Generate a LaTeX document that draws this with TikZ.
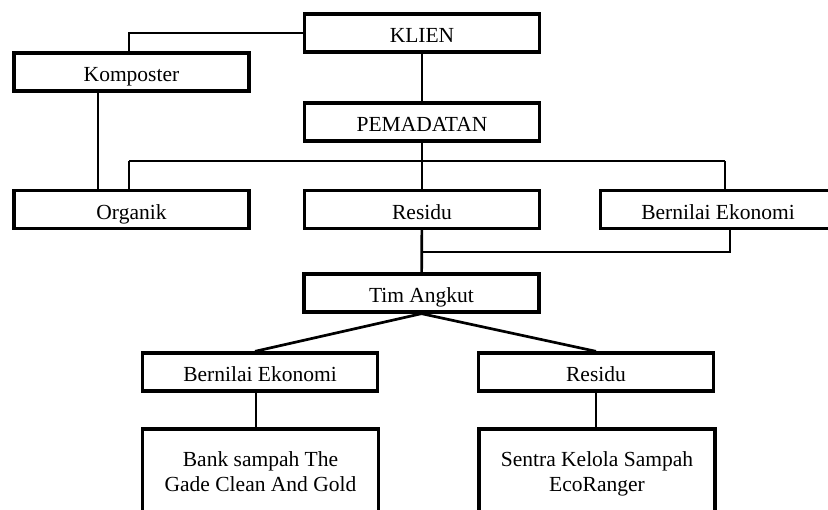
\documentclass[tikz,border=0pt]{standalone}
\usepackage{fontspec}
\setmainfont{Liberation Serif}
\begin{document}
\begin{tikzpicture}[
  x=1pt, y=-1pt,
  every node/.style={font=\fontsize{21.5}{25}\selectfont},
  unit/.style={draw, line width=3.3pt, minimum width=235pt, minimum height=38pt,
    inner sep=0pt, text height=20pt, text depth=0pt},
  tujuan/.style={draw, line width=3.3pt, minimum width=236pt, minimum height=88pt,
    inner sep=0pt, align=center, text height=40pt, text depth=3pt},
  link/.style={draw, line width=2.7pt},
  cabang/.style={draw, line width=1.4pt}
]
\useasboundingbox (0,0) rectangle (828,510);
\clip (0,0) rectangle (828,510);

% Nodes
\node[unit] (klien) at (422,33) {KLIEN};
\node[unit] (komposter) at (131.5,72) {Komposter};
\node[unit] (pemadatan) at (422,122) {PEMADATAN};
\node[unit] (organik) at (131.5,209.5) {Organik};
\node[unit] (residu) at (422,209.5) {Residu};
\node[unit] (ekonomi) at (718,209.5) {Bernilai Ekonomi};
\node[unit] (angkut) at (421.5,293) {Tim Angkut};
\node[unit] (ekonomi2) at (260,372) {Bernilai Ekonomi};
\node[unit] (residu2) at (596,372) {Residu};
\node[tujuan] (bank) at (260.5,473) {Bank sampah The\\Gade Clean And Gold};
\node[tujuan] (sentra) at (597,473) {Sentra Kelola Sampah\\EcoRanger};

% Connectors
\draw[link] (klien.west) -| ([xshift=-2.5pt]komposter.north);
\draw[link] (klien) -- (pemadatan);
\draw[link] ([xshift=-33.5pt]komposter.south) -- ([xshift=-33.5pt]organik.north);
\draw[link] (pemadatan) -- (residu);

\coordinate (kiri) at ([xshift=-2.5pt,yshift=28pt]organik.north);
\coordinate (kanan) at ([xshift=7pt,yshift=28pt]ekonomi.north);
\draw[cabang] (kiri) -- (kanan);
\draw[link] (kiri) -- ([xshift=-2.5pt]organik.north);
\draw[link] (kanan) -- ([xshift=7pt]ekonomi.north);

\coordinate (gabung) at ([yshift=-22pt]residu.south);
\draw[link] (residu) -- (angkut);
\draw[link] ([xshift=12pt]ekonomi.south) |- (gabung);

\draw[link] (angkut.south) -- ([xshift=-5pt]ekonomi2.north);
\draw[link] (angkut.south) -- (residu2.north);
\draw[link] ([xshift=-4pt]ekonomi2.south) -- ([xshift=-4pt]ekonomi2.south |- bank.north);
\draw[link] (residu2.south) -- (residu2.south |- sentra.north);

\end{tikzpicture}
\end{document}
